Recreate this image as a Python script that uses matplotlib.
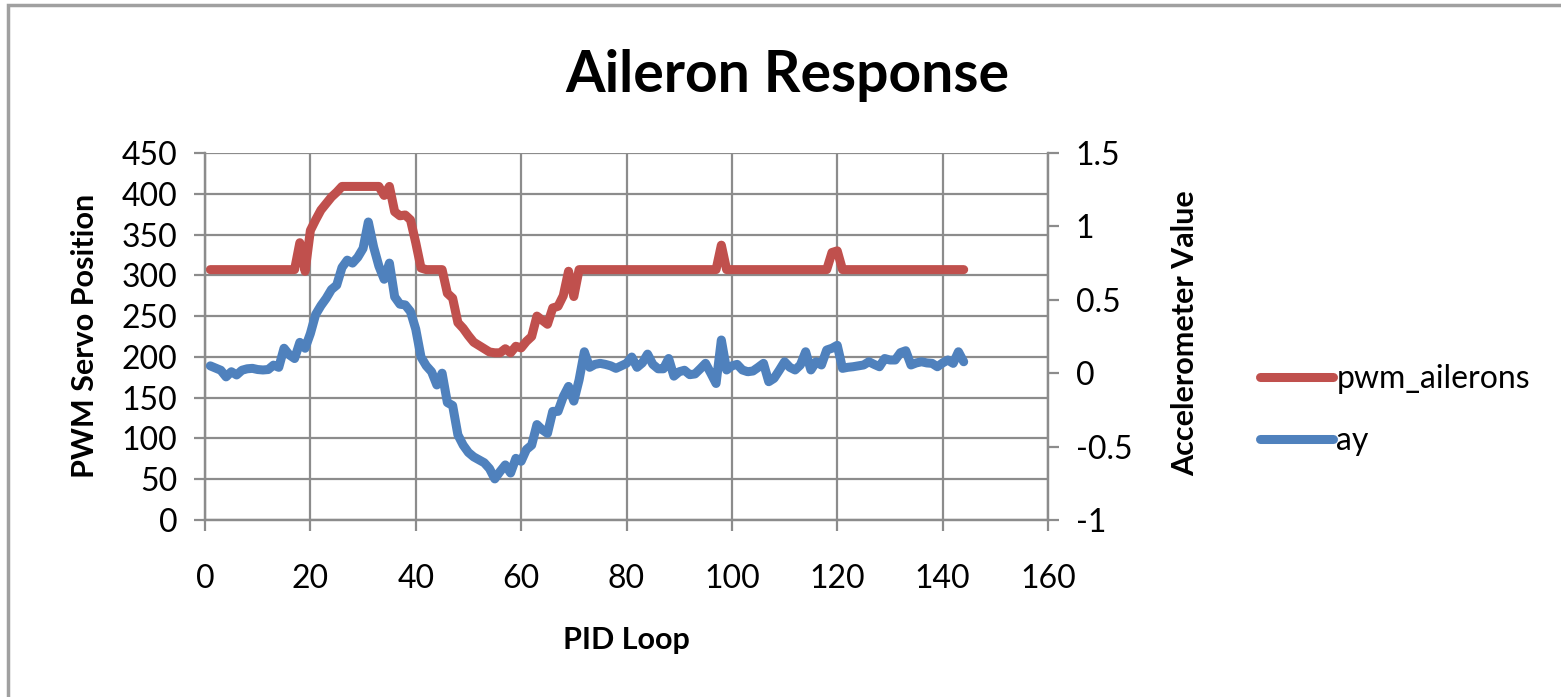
import numpy as np
import matplotlib
matplotlib.use("Agg")
import matplotlib.pyplot as plt
from matplotlib.patches import Rectangle

plt.rcParams['font.family'] = ['Lato', 'DejaVu Sans']

pid_loop = list(range(1, 145))

pwm_ailerons = ([307] * 17 +
                [340, 305, 355, 368, 380, 388, 396, 402, 409,
                 409, 409, 409, 409, 409, 409, 409, 398, 409, 378,
                 373, 374, 368, 340, 309, 307, 307, 307, 307, 278,
                 272, 242, 235, 226, 218, 214, 210, 206, 205, 205,
                 210, 205, 213, 211, 219, 225, 250, 245, 240, 260,
                 262, 275, 305, 274, 307] +
                [307] * 26 + [337] + [307] * 20 + [328, 330] + [307] * 24)

ay = [0.05, 0.035, 0.02, -0.025, 0.01, -0.012, 0.02, 0.03, 0.033, 0.025,
      0.022, 0.025, 0.055, 0.04, 0.17, 0.125, 0.10, 0.21, 0.17, 0.27,
      0.40, 0.46, 0.51, 0.57, 0.60, 0.72, 0.77, 0.75, 0.79, 0.85,
      1.03, 0.86, 0.73, 0.64, 0.75, 0.52, 0.47, 0.465, 0.42, 0.30,
      0.11, 0.05, 0.01, -0.08, 0.0, -0.20, -0.22, -0.42, -0.49, -0.54,
      -0.57, -0.59, -0.61, -0.65, -0.72, -0.67, -0.625, -0.68, -0.58, -0.60,
      -0.52, -0.49, -0.35, -0.385, -0.41, -0.26, -0.26, -0.16, -0.09, -0.19,
      -0.046, 0.146, 0.04, 0.06, 0.067, 0.06, 0.05, 0.033, 0.05, 0.067,
      0.11, 0.04, 0.07, 0.13, 0.06, 0.03, 0.03, 0.10, -0.02, 0.01,
      0.02, -0.01, -0.005, 0.03, 0.067, 0.0, -0.07, 0.226, 0.022, 0.05,
      0.06, 0.022, 0.01, 0.015, 0.04, 0.067, -0.058, -0.035, 0.02, 0.078,
      0.04, 0.022, 0.056, 0.146, 0.022, 0.078, 0.056, 0.158, 0.17, 0.19,
      0.033, 0.04, 0.044, 0.05, 0.056, 0.078, 0.06, 0.044, 0.10, 0.09,
      0.09, 0.14, 0.153, 0.056, 0.07, 0.078, 0.07, 0.067, 0.044, 0.07,
      0.09, 0.067, 0.146, 0.078]

left_ticks = [0, 50, 100, 150, 200, 250, 300, 350, 400, 450]
right_ticks = [-1, -0.5, 0, 0.5, 1, 1.5]
right_labels = ["-1", "-0.5", "0", "0.5", "1", "1.5"]
x_ticks = [0, 20, 40, 60, 80, 100, 120, 140, 160]

red = "#C0504D"
blue = "#4F81BD"
grid_col = "#8C8C8C"

W, H = 1561, 697
fig = plt.figure(figsize=(W / 100, H / 100), dpi=100)
fig.patch.set_facecolor("white")

# chart frame, behind everything
fig.add_artist(Rectangle((8 / W, -0.1), 1.2, 1 - 5 / H + 0.1, transform=fig.transFigure,
                         facecolor="white", edgecolor="#A0A0A0", linewidth=2.5,
                         zorder=-10))

ax = fig.add_axes([205 / W, 1 - 520 / H, (1048 - 205) / W, (520 - 153) / H])
ax2 = ax.twinx()
ax.patch.set_alpha(0)

ax.set_xlim(0, 160)
ax.set_ylim(0, 450)
ax2.set_ylim(-1, 1.5)
ax.set_xticks(x_ticks)
ax.set_yticks(left_ticks)
ax2.set_yticks(right_ticks)
ax2.set_yticklabels(right_labels)

ax.grid(True, color=grid_col, linewidth=1.6)
ax.set_axisbelow(True)
for a in (ax, ax2):
    for s in a.spines.values():
        s.set_color(grid_col)
        s.set_linewidth(1.6)
    a.spines['top'].set_visible(False)
ax.tick_params(axis='both', direction='out', length=8, width=1.6, color=grid_col,
               labelsize=23, labelcolor="black")
ax.tick_params(axis='y', pad=12)
ax.tick_params(axis='x', pad=24)
ax2.tick_params(axis='y', direction='out', length=8, width=1.6, color=grid_col,
                labelsize=23, labelcolor="black", pad=12)

ax.plot(pid_loop, pwm_ailerons, color=red, linewidth=6.5, solid_capstyle='round',
        solid_joinstyle='round', label="pwm_ailerons", zorder=3)
ax2.plot(pid_loop, ay, color=blue, linewidth=6.5, solid_capstyle='round',
         solid_joinstyle='round', label="ay", zorder=3)

fig.text(787 / W, 1 - 75 / H, "Aileron Response", fontsize=41, fontweight='bold',
         ha='center', va='center')
fig.text(626 / W, 1 - 640 / H, "PID Loop", fontsize=22, fontweight='bold',
         ha='center', va='center')
fig.text(85 / W, 1 - 336 / H, "PWM Servo Position", fontsize=22, fontweight='bold',
         ha='center', va='center', rotation=90)
fig.text(1185 / W, 1 - 333 / H, "Accelerometer Value", fontsize=22, fontweight='bold',
         ha='center', va='center', rotation=90)

h1, lb1 = ax.get_legend_handles_labels()
h2, lb2 = ax2.get_legend_handles_labels()
fig.legend(h1 + h2, lb1 + lb2, loc='center left', bbox_to_anchor=(1231 / W, 1 - 410 / H),
           frameon=False, fontsize=23, handlelength=2.3, handletextpad=0.1,
           labelspacing=1.0)

fig.savefig("out.png", dpi=100)
